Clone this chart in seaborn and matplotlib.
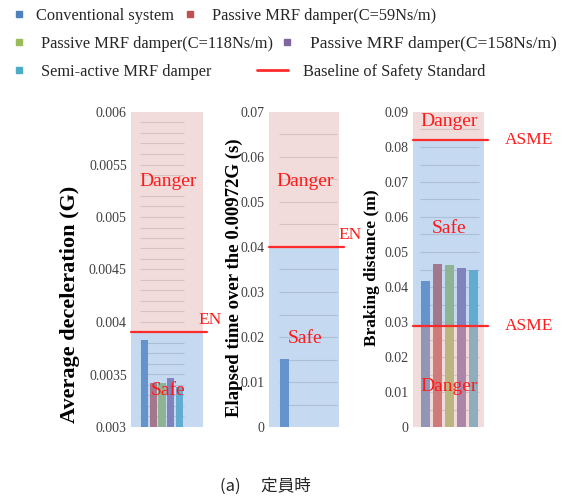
import matplotlib
matplotlib.use("Agg")
import matplotlib.pyplot as plt
import seaborn as sns
import pandas as pd
from matplotlib.lines import Line2D

# ---------------- data ----------------
systems = ["Conventional system", "Passive MRF damper(C=59Ns/m)",
           "Passive MRF damper(C=118Ns/m)", "Passive MRF damper(C=158Ns/m)",
           "Semi-active MRF damper"]
colors = ["#4F81BD", "#C0504D", "#9BBB59", "#8064A2", "#4BACC6"]

avg_decel = [0.00383, 0.00342, 0.00342, 0.00347, 0.00338]
elapsed = [0.0151, 0.0, 0.0, 0.0, 0.0]
braking = [0.0416, 0.0467, 0.0464, 0.0454, 0.0450]

ylabels = ["Average deceleration (G)", "Elapsed time over the 0.00972G (s)",
           "Braking distance (m)"]
ylims = [(0.003, 0.006), (0.0, 0.07), (0.0, 0.09)]
yticks1 = [0.003, 0.0035, 0.004, 0.0045, 0.005, 0.0055, 0.006]
ylabels1 = ["0.003", "0.0035", "0.004", "0.0045", "0.005", "0.0055", "0.006"]
yticks2 = [0, 0.01, 0.02, 0.03, 0.04, 0.05, 0.06, 0.07]
ylabels2 = ["0", "0.01", "0.02", "0.03", "0.04", "0.05", "0.06", "0.07"]
yticks3 = [0, 0.01, 0.02, 0.03, 0.04, 0.05, 0.06, 0.07, 0.08, 0.09]
ylabels3 = ["0", "0.01", "0.02", "0.03", "0.04", "0.05", "0.06", "0.07", "0.08", "0.09"]
grid_steps = [0.0001, 0.005, 0.005]

# safety baselines and zones
baselines = [[0.0039], [0.04], [0.082, 0.029]]
baseline_names = [["EN"], ["EN"], ["ASME", "ASME"]]
zones = [
    [("danger", 0.0039, 0.006), ("safe", 0.003, 0.0039)],
    [("danger", 0.04, 0.07), ("safe", 0.0, 0.04)],
    [("danger", 0.082, 0.09), ("safe", 0.029, 0.082), ("danger", 0.0, 0.029)],
]
zone_labels = [
    [("Danger", 0.00534), ("Safe", 0.00335)],
    [("Danger", 0.0545), ("Safe", 0.0196)],
    [("Danger", 0.0873), ("Safe", 0.0567), ("Danger", 0.0115)],
]

# ---------------- styling / layout ----------------
W, H = 564, 497
fig = plt.figure(figsize=(W / 100, H / 100), dpi=100)
sns.set_style("white")
serif = ["Liberation Serif", "DejaVu Serif"]

axes_px = [(131, 72), (269, 70), (413, 71)]   # left, width
top_px, bot_px = 112, 427
xlims = [(-0.564, 0.745), (-0.538, 0.428), (-0.495, 0.468)]
gaps = [0.19, 0.2, 0.25]
label_pos = [(-0.708, 0.39), (-0.371, 0.473), (-0.465, 0.505)]
label_sizes = [16, 13.5, 12.5]
line_ext = [1.055, 1.07, 1.056]
name_x = [[1.104], [1.157], [1.627, 1.627]]
name_dy = [[0.00012], [0.0027], [0.0, 0.0]]
all_values = [avg_decel, elapsed, braking]
all_ticks = [(yticks1, ylabels1), (yticks2, ylabels2), (yticks3, ylabels3)]

zone_colors = {"danger": ("#E3B0B0", 0.45), "safe": ("#80ABE0", 0.45)}

for i in range(3):
    left, width = axes_px[i]
    ax = fig.add_axes([left / W, (H - bot_px) / H, width / W, (bot_px - top_px) / H])
    df = pd.DataFrame({"cat": [""] * 5, "value": all_values[i], "system": systems})
    sns.barplot(data=df, x="cat", y="value", hue="system", hue_order=systems,
                palette=colors, width=0.8, gap=gaps[i], legend=False,
                linewidth=0, saturation=1, ax=ax)
    for p in ax.patches:
        p.set_zorder(1)
    lo, hi = ylims[i]
    ax.set_ylim(lo, hi)
    ax.set_xlim(*xlims[i])

    # light gridlines inside plot area
    step = grid_steps[i]
    n = int(round((hi - lo) / step))
    gl = [lo + k * step for k in range(1, n)]
    ax.hlines(gl, -0.4, 0.4, colors="#d0d0d0", linewidth=0.8, zorder=0.5)

    # shaded safety zones (drawn over bars)
    for kind, a, b in zones[i]:
        c, al = zone_colors[kind]
        ax.axhspan(a, b, color=c, alpha=al, lw=0, zorder=3)

    for y, name, nx, dy in zip(baselines[i], baseline_names[i], name_x[i], name_dy[i]):
        ax.axhline(y, xmin=0, xmax=line_ext[i], color="#FF2A2A", lw=1.6,
                   clip_on=False, zorder=4)
        ax.text(nx, y + dy, name, transform=ax.get_yaxis_transform(),
                ha="center", va="center", color="#FF1A1A", fontsize=12.5,
                family=serif, zorder=5)

    for txt, y in zone_labels[i]:
        ax.text(0.51, y, txt, transform=ax.get_yaxis_transform(), ha="center",
                va="center", color="#FF1A1A", fontsize=14, family=serif, zorder=5)

    ticks, tlabels = all_ticks[i]
    ax.set_yticks(ticks)
    ax.set_yticklabels(tlabels, family=serif, fontsize=10, color="#404040")
    ax.tick_params(axis="y", length=0, pad=3)
    ax.set_xticks([])
    ax.set_xlabel("")
    ax.set_ylabel(ylabels[i], family=serif, fontweight="bold",
                  fontsize=label_sizes[i], color="black")
    ax.yaxis.set_label_coords(*label_pos[i])
    for s in ax.spines.values():
        s.set_visible(False)
    ax.set_facecolor("none")

# ---------------- legend (placed entry by entry) ----------------
fs = 11.8
entries = [
    (systems[0], colors[0], 14.5, 15.5, 0.84, fs),
    (systems[1], colors[1], 185.5, 15.5, 1.09, fs),
    (systems[2], colors[2], 15.0, 44.0, 1.06, fs),
    (systems[3], colors[3], 283.0, 44.0, 1.15, 12.5),
    (systems[4], colors[4], 15.0, 71.5, 1.06, fs),
]
for lab, col, x, y, pad, size in entries:
    h = Line2D([], [], marker="s", markersize=5, color=col, linestyle="none")
    fig.legend([h], [lab], loc="center left", bbox_to_anchor=(x / W, 1 - y / H),
               frameon=False, borderpad=0, borderaxespad=0,
               handlelength=0.5 * fs / size,
               handletextpad=pad * fs / size, prop={"family": serif, "size": size})
hline = Line2D([], [], color="#FF2A2A", lw=2)
fig.legend([hline], ["Baseline of Safety Standard"], loc="center left",
           bbox_to_anchor=(257 / W, 1 - 71.5 / H), frameon=False, borderpad=0,
           borderaxespad=0, handlelength=1.875, handletextpad=0.94,
           prop={"family": serif, "size": fs})

fig.text(265.5 / W, 1 - 486.5 / H, "(a)　 定員時", ha="center", va="center",
         fontsize=12, family=["Noto Sans CJK JP", "DejaVu Sans"])

fig.savefig("out.png", dpi=100)
